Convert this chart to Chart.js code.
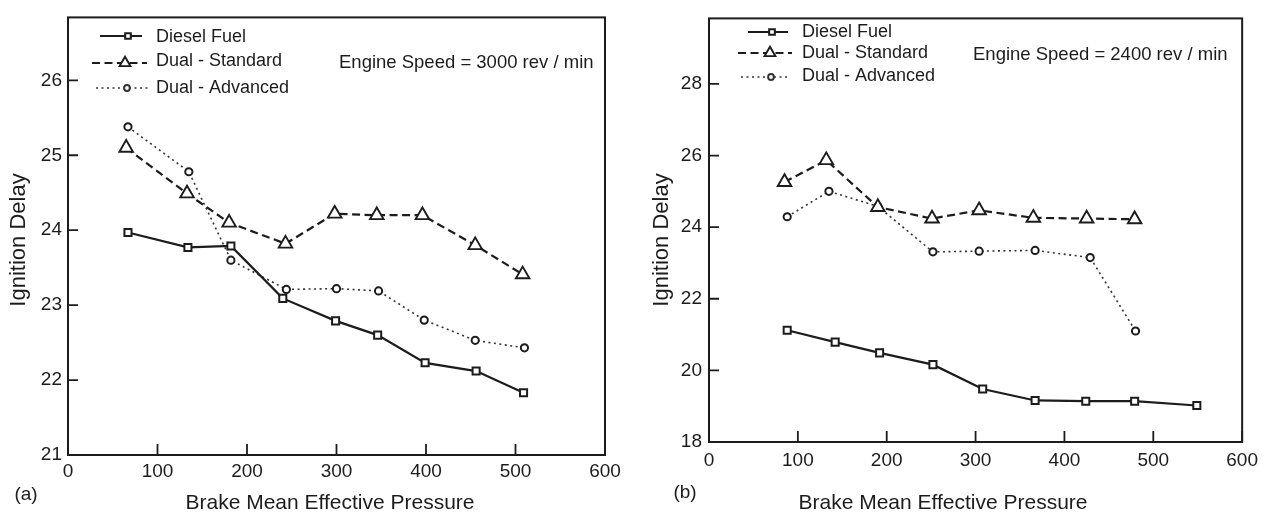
<!DOCTYPE html>
<html>
<head>
<meta charset="utf-8">
<script src="https://cdn.jsdelivr.net/npm/chart.js@4.4.1/dist/chart.umd.min.js"></script>
<style>
  html, body { margin: 0; padding: 0; background: #fff; }
  #wrap { position: relative; width: 1265px; height: 516px; }
  canvas { position: absolute; top: 0; }
  #chartA { left: 0; }
  #chartB { left: 640px; }
</style>
</head>
<body>
<div id="wrap">
  <canvas id="chartA" width="632" height="516"></canvas>
  <canvas id="chartB" width="625" height="516"></canvas>
</div>

<script>
    // 数据 - (a) 3000 rev/min
    const seriesNames = ['Diesel Fuel', 'Dual - Standard', 'Dual - Advanced'];
    const speedNotes = ['Engine Speed = 3000 rev / min', 'Engine Speed = 2400 rev / min'];
    const panelTags = ['(a)', '(b)'];
    const xTitle = 'Brake Mean Effective Pressure';
    const yTitle = 'Ignition Delay';

    const xTicks = [0, 100, 200, 300, 400, 500, 600];
    const yTicksA = [21, 22, 23, 24, 25, 26];
    const yTicksB = [18, 20, 22, 24, 26, 28];
    const yRangeA = [21, 26.84];
    const yRangeB = [18, 29.83];

    const bmepA_diesel = [67, 134, 182, 240, 299, 346, 399, 456, 509];
    const delayA_diesel = [23.97, 23.77, 23.79, 23.09, 22.79, 22.60, 22.23, 22.12, 21.83];
    const bmepA_std = [65, 133, 180, 243, 298, 345, 396, 455, 508];
    const delayA_std = [25.10, 24.49, 24.10, 23.82, 24.22, 24.20, 24.20, 23.80, 23.41];
    const bmepA_adv = [67, 135, 182, 244, 300, 347, 398, 455, 510];
    const delayA_adv = [25.38, 24.78, 23.60, 23.21, 23.22, 23.19, 22.80, 22.53, 22.43];

    // 数据 - (b) 2400 rev/min
    const bmepB_diesel = [88, 142, 192, 252, 308, 367, 424, 479, 549];
    const delayB_diesel = [21.12, 20.79, 20.49, 20.16, 19.48, 19.16, 19.14, 19.14, 19.02];
    const bmepB_std = [85, 132, 190, 251, 304, 365, 425, 479];
    const delayB_std = [25.26, 25.87, 24.56, 24.24, 24.47, 24.26, 24.24, 24.22];
    const bmepB_adv = [88, 135, 190, 252, 304, 367, 429, 480];
    const delayB_adv = [24.29, 25.00, 24.58, 23.31, 23.33, 23.35, 23.15, 21.10];

    const FONT = "'Liberation Sans', Arial, sans-serif";
    const INK = '#1c1c1c';

    function pts(xs, ys) {
        return xs.map((x, i) => ({ x: x, y: ys[i] }));
    }

    // 边框、内刻度、图例和文字
    function decoPlugin(d) {
        return {
            id: 'deco',
            afterDraw(chart) {
                const ctx = chart.ctx;
                const a = chart.chartArea;
                const xs = chart.scales.x, ys = chart.scales.y;
                ctx.save();
                ctx.strokeStyle = INK;
                ctx.lineWidth = 2;
                ctx.setLineDash([]);
                ctx.strokeRect(a.left, a.top, a.right - a.left, a.bottom - a.top);

                ctx.lineWidth = 1.8;
                ctx.beginPath();
                xs.ticks.forEach(t => {
                    const p = xs.getPixelForValue(t.value);
                    ctx.moveTo(p, a.bottom);
                    ctx.lineTo(p, a.bottom - 11);
                });
                ys.ticks.forEach(t => {
                    const p = ys.getPixelForValue(t.value);
                    ctx.moveTo(a.left, p);
                    ctx.lineTo(a.left + 10, p);
                });
                ctx.stroke();

                // 图例
                chart.data.datasets.forEach((ds, i) => {
                    const L = d.legend[i];
                    ctx.strokeStyle = ds.borderColor;
                    ctx.lineWidth = ds.borderWidth;
                    ctx.setLineDash(ds.borderDash);
                    ctx.beginPath();
                    ctx.moveTo(L[0], L[3]);
                    ctx.lineTo(L[1], L[3]);
                    ctx.stroke();
                    ctx.setLineDash([]);
                    ctx.fillStyle = '#fff';
                    ctx.lineWidth = ds.pointBorderWidth;
                    Chart.helpers.drawPoint(ctx, {
                        pointStyle: ds.pointStyle,
                        radius: ds.pointRadius * 0.8,
                        borderWidth: ds.pointBorderWidth,
                        rotation: 0
                    }, L[2], L[3]);
                    ctx.fillStyle = INK;
                    ctx.font = '18px ' + FONT;
                    ctx.textAlign = 'left';
                    ctx.textBaseline = 'middle';
                    ctx.fillText(ds.label, d.textX, L[4]);
                });

                ctx.fillStyle = INK;
                ctx.textBaseline = 'middle';
                ctx.textAlign = 'left';
                ctx.font = '18.5px ' + FONT;
                ctx.fillText(d.note, d.noteX, d.noteY);

                ctx.font = '19px ' + FONT;
                ctx.textAlign = 'center';
                ctx.fillText(d.tag, d.tagX, d.tagY);

                ctx.font = '21px ' + FONT;
                ctx.fillText(xTitle, d.xTitleX, 503);

                ctx.font = '22px ' + FONT;
                ctx.translate(d.yTitleX, 240);
                ctx.rotate(-Math.PI / 2);
                ctx.fillText(yTitle, 0, 0);
                ctx.restore();
            }
        };
    }

    function makeChart(id, data, yTicks, yRange, box, deco) {
        const styles = [
            { pointStyle: 'rect', pointRadius: 5, borderWidth: 2.2, borderDash: [], pointBorderWidth: 2, borderColor: INK },
            { pointStyle: 'triangle', pointRadius: 7.8, borderWidth: 2.2, borderDash: [8, 4.5], pointBorderWidth: 1.9, borderColor: INK },
            { pointStyle: 'circle', pointRadius: 3.6, borderWidth: 1.6, borderDash: [2, 3.5], pointBorderWidth: 2, borderColor: '#333' }
        ];
        const datasets = data.map((d, i) => Object.assign({
            label: seriesNames[i],
            data: d,
            pointBackgroundColor: '#fff',
            pointBorderColor: INK,
            pointHoverRadius: styles[i].pointRadius,
            tension: 0,
            fill: false
        }, styles[i]));

        return new Chart(document.getElementById(id), {
            type: 'line',
            data: { datasets: datasets },
            options: {
                responsive: false,
                animation: false,
                layout: { autoPadding: false, padding: { left: 0, top: box.top, right: box.right, bottom: 0 } },
                plugins: { legend: { display: false }, tooltip: { enabled: false } },
                scales: {
                    x: {
                        type: 'linear',
                        min: xTicks[0],
                        max: xTicks[xTicks.length - 1],
                        afterBuildTicks: s => { s.ticks = xTicks.map(v => ({ value: v })); },
                        afterFit: s => { s.height = box.xh; },
                        grid: { display: false, drawTicks: false },
                        border: { display: false },
                        ticks: { color: INK, padding: box.xpad, font: { family: FONT, size: 19 } }
                    },
                    y: {
                        type: 'linear',
                        min: yRange[0],
                        max: yRange[1],
                        afterBuildTicks: s => { s.ticks = yTicks.map(v => ({ value: v })); },
                        afterFit: s => { s.width = box.yw; },
                        grid: { display: false, drawTicks: false },
                        border: { display: false },
                        ticks: { color: INK, padding: box.ypad, font: { family: FONT, size: 19 } }
                    }
                }
            },
            plugins: [decoPlugin(deco)]
        });
    }

    // 页面加载时初始化
    makeChart('chartA',
        [pts(bmepA_diesel, delayA_diesel), pts(bmepA_std, delayA_std), pts(bmepA_adv, delayA_adv)],
        yTicksA, yRangeA,
        { top: 11, right: 27, xh: 61, yw: 68, xpad: 5, ypad: 6 },
        {
            legend: [[100, 142, 128, 36, 37], [92, 147, 125, 63, 61], [96, 150, 127, 88, 88]],
            textX: 156,
            note: speedNotes[0], noteX: 339, noteY: 63,
            tag: panelTags[0], tagX: 26, tagY: 495,
            xTitleX: 330, yTitleX: 19
        });

    makeChart('chartB',
        [pts(bmepB_diesel, delayB_diesel), pts(bmepB_std, delayB_std), pts(bmepB_adv, delayB_adv)],
        yTicksB, yRangeB,
        { top: 15, right: 18, xh: 74, yw: 69, xpad: 7, ypad: 7 },
        {
            legend: [[108, 148, 132, 32, 32], [98, 152, 130, 53, 53], [101, 149, 131, 77, 76]],
            textX: 162,
            note: speedNotes[1], noteX: 333, noteY: 55,
            tag: panelTags[1], tagX: 45, tagY: 493,
            xTitleX: 303, yTitleX: 22
        });
</script>
</body>
</html>
